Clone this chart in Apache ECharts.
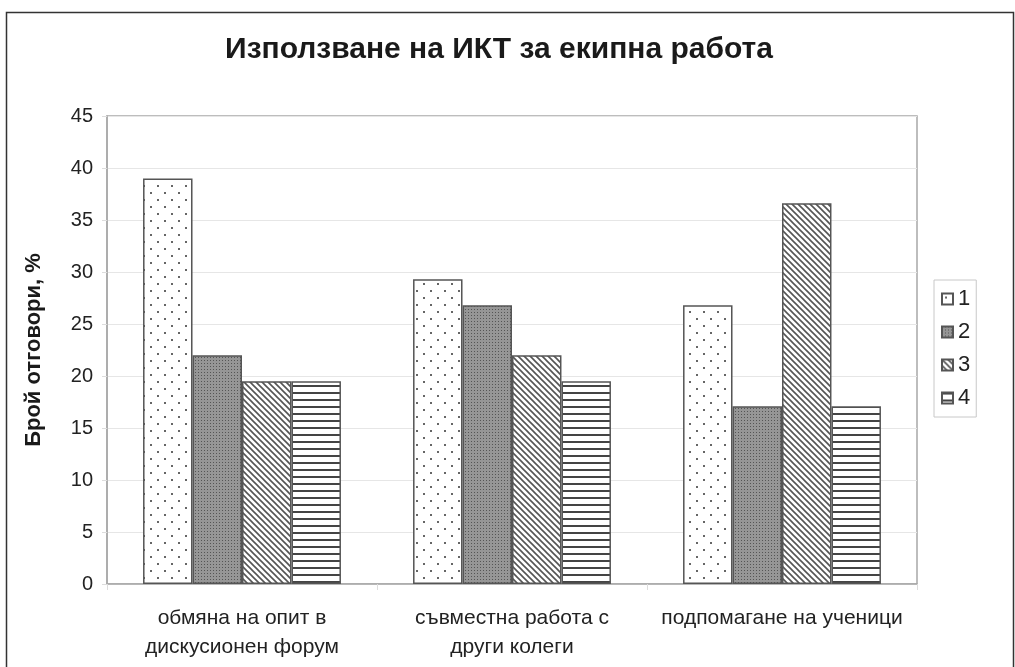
<!DOCTYPE html>
<html>
<head>
<meta charset="utf-8">
<script src="https://cdn.jsdelivr.net/npm/echarts@6/dist/echarts.min.js"></script>
<style>
  html, body { margin: 0; padding: 0; background: #fff; }
  #chart { width: 1015px; height: 667px; }
</style>
</head>
<body>
<div id="chart"></div>
<script>
// Chart data
const titleText = 'Използване на ИКТ за екипна работа';
const yAxisName = 'Брой отговори, %';
const categories = ['обмяна на опит в\nдискусионен форум', 'съвместна работа с\nдруги колеги', 'подпомагане на ученици'];
const seriesNames = ['1', '2', '3', '4'];
const values1 = [39.0, 29.3, 26.8];
const values2 = [22.0, 26.8, 17.1];
const values3 = [19.5, 22.0, 36.6];
const values4 = [19.5, 19.5, 17.1];
const yTicks = { min: 0, max: 45, interval: 5 };

// Fill patterns drawn on small canvases
function tile(w, h, draw) {
  const c = document.createElement('canvas');
  c.width = w; c.height = h;
  const ctx = c.getContext('2d');
  draw(ctx, w, h);
  return { image: c, repeat: 'repeat' };
}
const dotsPattern = tile(14, 14, (ctx, w, h) => {
  ctx.fillStyle = '#fff'; ctx.fillRect(0, 0, w, h);
  ctx.fillStyle = '#666';
  ctx.fillRect(3, 3, 2, 2);
  ctx.fillRect(10, 10, 2, 2);
});
const grayPattern = tile(3, 3, (ctx, w, h) => {
  ctx.fillStyle = '#969696'; ctx.fillRect(0, 0, w, h);
  ctx.fillStyle = '#555'; ctx.fillRect(0, 0, 1, 1);
});
const diagPattern = tile(6, 6, (ctx, w, h) => {
  ctx.fillStyle = '#fff'; ctx.fillRect(0, 0, w, h);
  ctx.strokeStyle = '#555'; ctx.lineWidth = 1.6;
  ctx.beginPath();
  ctx.moveTo(-1, -1); ctx.lineTo(7, 7);
  ctx.moveTo(-7, -1); ctx.lineTo(1, 7);
  ctx.moveTo(5, -1); ctx.lineTo(13, 7);
  ctx.stroke();
});
const hlinePattern = tile(8, 7, (ctx, w, h) => {
  ctx.fillStyle = '#fff'; ctx.fillRect(0, 0, w, h);
  ctx.fillStyle = '#444'; ctx.fillRect(0, 0, w, 2);
});
const fills = [dotsPattern, grayPattern, diagPattern, hlinePattern];
const valueSets = [values1, values2, values3, values4];

const chart = echarts.init(document.getElementById('chart'), null, { renderer: 'canvas' });
const font = 'Liberation Sans, Arial, sans-serif';

chart.setOption({
  animation: false,
  backgroundColor: '#fff',
  textStyle: { fontFamily: font },
  title: {
    text: titleText,
    left: 494, top: 30, textAlign: 'center',
    textStyle: { fontSize: 30, fontWeight: 'bold', color: '#1a1a1a', fontFamily: font }
  },
  graphic: [{
    type: 'rect', left: 4, top: 10, silent: true,
    shape: { width: 1007, height: 665 },
    style: { fill: 'none', stroke: '#333', lineWidth: 1.5 }
  }],
  legend: {
    orient: 'vertical',
    left: 934, top: 280,
    itemWidth: 11, itemHeight: 11, itemGap: 11,
    padding: [8, 6, 8, 7],
    borderColor: '#c8c8c8', borderWidth: 1,
    textStyle: { fontSize: 22, color: '#222', fontFamily: font },
    data: seriesNames.map(n => ({ name: n, icon: 'rect' }))
  },
  grid: { left: 107, right: 98, top: 116, bottom: 83, show: true, borderColor: '#a8a8a8', borderWidth: 1.5 },
  xAxis: {
    type: 'category',
    data: categories,
    axisLine: { lineStyle: { color: '#a8a8a8', width: 1.5 } },
    axisTick: { show: true, length: 6, lineStyle: { color: '#ddd' } },
    axisLabel: { interval: 0, hideOverlap: false, fontSize: 21, color: '#222', margin: 20, lineHeight: 29, fontFamily: font }
  },
  yAxis: {
    type: 'value',
    min: yTicks.min, max: yTicks.max, interval: yTicks.interval,
    name: yAxisName,
    nameLocation: 'middle', nameGap: 62, nameRotate: 90,
    nameTextStyle: { fontSize: 22, fontWeight: 'bold', color: '#1a1a1a', fontFamily: font },
    axisLine: { show: true, lineStyle: { color: '#a8a8a8', width: 1.5 } },
    axisTick: { show: true, length: 5, lineStyle: { color: '#ddd' } },
    axisLabel: { fontSize: 20, color: '#222', margin: 14, fontFamily: font },
    splitLine: { lineStyle: { color: '#e6e6e6', width: 1 } }
  },
  series: seriesNames.map((name, i) => ({
    name: name,
    type: 'bar',
    data: valueSets[i],
    barGap: '0%',
    barCategoryGap: '26.7%',
    itemStyle: { color: fills[i], borderColor: '#555', borderWidth: 1.5 }
  }))
});
</script>
</body>
</html>
